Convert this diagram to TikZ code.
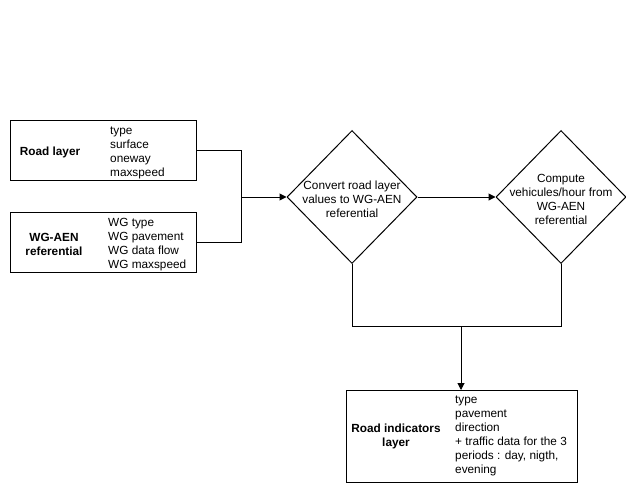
\documentclass[tikz,border=0pt]{standalone}
\usepackage{fontspec}
\setmainfont{Liberation Sans}
\usetikzlibrary{shapes.geometric,arrows.meta}
\begin{document}
\begin{tikzpicture}[x=1pt,y=-1pt,
  box/.style={draw=black,line width=1pt,rectangle,inner sep=0pt,anchor=north west},
  diam/.style={draw=black,line width=1pt,diamond,inner sep=0pt,minimum width=130pt,minimum height=133pt},
  txt/.style={font=\fontsize{11.8pt}{14pt}\selectfont,inner sep=0pt},
  lst/.style={txt,align=left,anchor=west},
  bld/.style={txt,font=\fontsize{11.8pt}{14pt}\selectfont\bfseries,align=center},
  conn/.style={draw=black,line width=1pt},
  arr/.style={conn,-{Triangle[length=7pt,width=7pt]}}]
\useasboundingbox (0,0) rectangle (626,484);
% Road layer
\node[box,minimum width=186pt,minimum height=60pt] (road) at (10,120) {};
\node[bld] (roadt) at (50,152) {Road layer};
\node[lst] (roadl) at (110,152.5) {type\\surface\\oneway\\maxspeed};
% WG-AEN
\node[box,minimum width=186pt,minimum height=60pt] (wg) at (10,212) {};
\node[bld] (wgt) at (54,244) {WG-AEN\\referential};
\node[lst] (wgl) at (108,244.5) {WG type\\WG pavement\\WG data flow\\WG maxspeed};
% diamonds
\node[diam] (d1) at (352,197) {};
\node[txt,align=center] (d1t) at (352,199) {Convert road layer\\values to WG-AEN\\referential};
\node[diam] (d2) at (561,197) {};
\node[txt,align=center] (d2t) at (561,199) {Compute\\vehicules/hour from\\WG-AEN\\referential};
% result box
\node[box,minimum width=231pt,minimum height=92pt] (res) at (346,390) {};
\node[bld] (rest) at (396,436) {Road indicators\\layer};
\node[lst] (resl) at (455,435.5) {type\\pavement\\direction\\+ traffic data for the 3\\periods : day, nigth,\\evening};
% connectors
\coordinate (j1) at (241,197);
\coordinate (j2) at (461,326);
\draw[conn] (road.east) -| (j1);
\draw[conn] (wg.east) -| (j1);
\draw[arr] (j1) -- (d1.west);
\draw[arr] (d1.east) -- (d2.west);
\draw[conn] (d1.south) |- (j2);
\draw[conn] (d2.south) |- (j2);
\draw[arr] (j2) -- (res.north -| j2);
\end{tikzpicture}
\end{document}
